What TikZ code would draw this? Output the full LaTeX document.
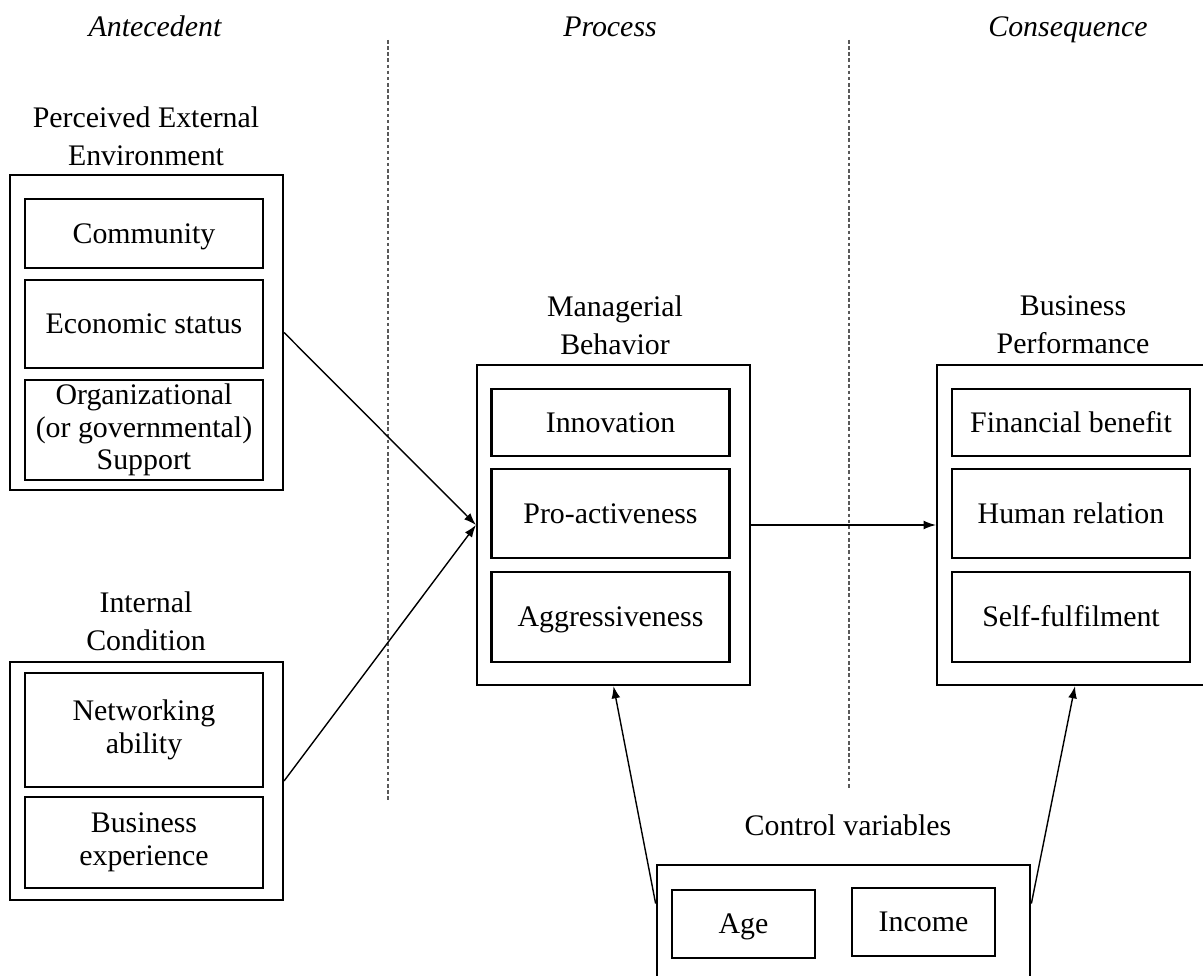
\documentclass[tikz,border=0pt]{standalone}
\usepackage{fontspec}
\setmainfont{Liberation Serif}
\usetikzlibrary{arrows.meta}

\tikzset{
  outer/.style={draw, line width=1.2pt, inner sep=0pt},
  item/.style={draw, line width=1.6pt, minimum width=4.76cm, align=center, inner sep=0pt,
    font=\fontsize{17}{18.5}\selectfont},
  oneline/.style={text height=12pt, text depth=1pt},
  head/.style={align=center, font=\fontsize{17}{21.5}\selectfont},
  phase/.style={anchor=base, font=\fontsize{17}{21}\selectfont\itshape},
  link/.style={-{Latex[length=7pt,width=5pt]}, line width=0.8pt},
  divide/.style={gray!70!black, line width=0.6pt, dash pattern=on 2pt off 1.5pt}
}

\begin{document}
\begin{tikzpicture}[x=0.02cm, y=-0.02cm]

\useasboundingbox (0,0) rectangle (1203,976);

% phases
\node[phase] (ante) at (155,37)  {Antecedent};
\node[phase] (proc) at (610,37)  {Process};
\node[phase] (cons) at (1068,37) {Consequence};

\foreach \x/\yend in {388/800, 849/790}
    \draw[divide] (\x,40) -- (\x,\yend);

% antecedent
\node[head] (peeh) at (146,136) {Perceived External\\Environment};
\node[outer, minimum width=5.46cm, minimum height=6.3cm] (pee) at (146.5,332.5) {};
\node[item, oneline, minimum height=1.38cm] (comm) at (144,233.5) {Community};
\node[item, oneline, minimum height=1.76cm] (econ) at (144,324)   {Economic status};
\node[item, minimum height=2.0cm]  (orgs) at (144,430) {Organizational\\(or governmental)\\Support};

\node[head] (ich) at (146,621) {Internal\\Condition};
\node[outer, minimum width=5.46cm, minimum height=4.76cm] (ic) at (146.5,781) {};
\node[item, minimum height=2.28cm] (netw) at (144,730)   {Networking\\ability};
\node[item, minimum height=1.82cm] (bexp) at (144,842.5) {Business\\experience};

% process
\node[head] (mbh) at (615,325) {Managerial\\Behavior};
\node[outer, minimum width=5.46cm, minimum height=6.4cm] (mb) at (613.5,525) {};
\node[item, oneline, minimum height=1.34cm] (innov) at (610.5,422.5) {Innovation};
\node[item, oneline, minimum height=1.78cm] (proac) at (610.5,513.5) {Pro-activeness};
\node[item, oneline, minimum height=1.8cm]  (aggr)  at (610.5,617)   {Aggressiveness};

% consequence
\node[head] (bph) at (1073,325) {Business\\Performance};
\node[outer, minimum width=5.52cm, minimum height=6.4cm] (bp) at (1075,525) {};
\node[item, oneline, minimum height=1.34cm] (fin)  at (1071,422.5) {Financial benefit};
\node[item, oneline, minimum height=1.78cm] (hum)  at (1071,513.5) {Human relation};
\node[item, oneline, minimum height=1.8cm]  (self) at (1071,617)   {Self-fulfilment};

% control variables
\node[head] (cvh) at (848,825) {Control variables};
\node[outer, line width=1.6pt, minimum width=7.46cm, minimum height=2.7cm] (cv) at (843.5,932.5) {};
\node[item, oneline, line width=1.1pt, minimum width=2.86cm, minimum height=1.36cm] (age) at (743.5,924) {Age};
\node[item, oneline, line width=1.1pt, minimum width=2.86cm, minimum height=1.36cm] (inc) at (923.5,922) {Income};

% links
\draw[link] (pee.east) -- (mb.west);
\draw[link] (ic.east) -- (mb.west);
\draw[link] (mb.east) -- (bp.west);
\draw[link] ([yshift=-0.8cm]cv.north west) -- (mb.south);
\draw[link] ([yshift=-0.8cm]cv.north east) -- (bp.south);

\end{tikzpicture}
\end{document}
